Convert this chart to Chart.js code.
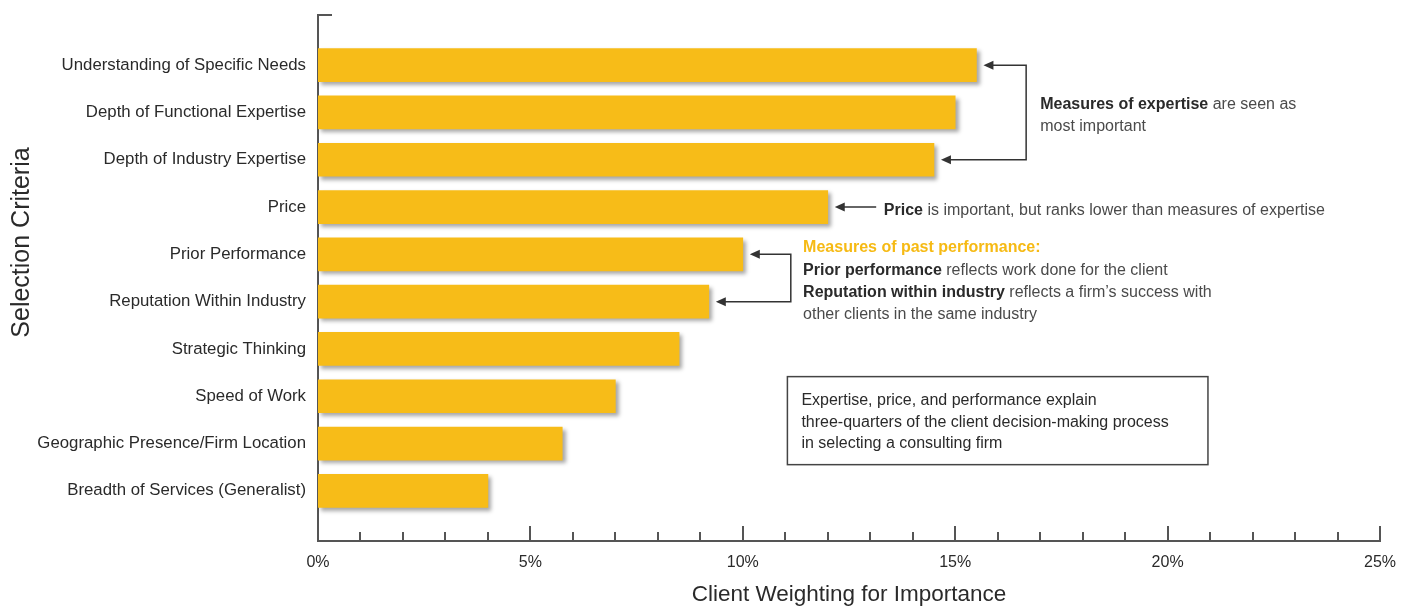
<html>
<head>
<meta charset="utf-8">
<script src="https://cdn.jsdelivr.net/npm/chart.js@4.4.1/dist/chart.umd.min.js"></script>
<style>
    html, body { margin: 0; padding: 0; background: #fff; }
</style>
</head>
<body>
<canvas id="myChart" width="1414" height="610"></canvas>
<script>
    // chart data
    const criteria = [
        'Understanding of Specific Needs',
        'Depth of Functional Expertise',
        'Depth of Industry Expertise',
        'Price',
        'Prior Performance',
        'Reputation Within Industry',
        'Strategic Thinking',
        'Speed of Work',
        'Geographic Presence/Firm Location',
        'Breadth of Services (Generalist)'
    ];
    const weights = [15.5, 15.0, 14.5, 12.0, 10.0, 9.2, 8.5, 7.0, 5.75, 4.0];
    const xTickValues = [0, 5, 10, 15, 20, 25];

    const FONT = "'Liberation Sans', Arial, sans-serif";
    const BAR = 'rgb(247, 188, 24)';
    const INK = '#2a2a2a';
    const SOFT = '#4a4a4a';
    const LINE = '#555';

    Chart.defaults.font.family = FONT;
    Chart.defaults.color = INK;

    // bars get a soft drop shadow
    const shadowPlugin = {
        id: 'shadow',
        beforeDatasetsDraw(chart) {
            const ctx = chart.ctx;
            ctx.save();
            ctx.shadowColor = 'rgba(0,0,0,0.35)';
            ctx.shadowOffsetX = 3;
            ctx.shadowOffsetY = 3;
            ctx.shadowBlur = 4;
        },
        afterDatasetsDraw(chart) {
            chart.ctx.restore();
        }
    };

    function richLine(ctx, x, y, parts) {
        for (const [txt, bold, color] of parts) {
            ctx.font = (bold ? 'bold ' : '') + '16px ' + FONT;
            ctx.fillStyle = color;
            ctx.fillText(txt, x, y);
            x += ctx.measureText(txt).width;
        }
    }

    function arrowHead(ctx, x, y) {
        ctx.beginPath();
        ctx.moveTo(x, y);
        ctx.lineTo(x + 10, y - 4.5);
        ctx.lineTo(x + 10, y + 4.5);
        ctx.closePath();
        ctx.fill();
    }

    const annotPlugin = {
        id: 'annot',
        afterDraw(chart) {
            const ctx = chart.ctx;
            const xs = chart.scales.x, ys = chart.scales.y;
            const area = chart.chartArea;
            const px = v => xs.getPixelForValue(v);
            const py = i => ys.getPixelForValue(i);
            const tip = i => px(weights[i]) + 7;

            ctx.save();
            // axis ticks pointing up, plus the little cap on the y axis
            ctx.strokeStyle = LINE;
            ctx.lineWidth = 2;
            ctx.beginPath();
            for (let v = 1; v <= 25; v++) {
                const x = Math.round(px(v));
                ctx.moveTo(x, area.bottom);
                ctx.lineTo(x, area.bottom - (v % 5 === 0 ? 15 : 9));
            }
            ctx.moveTo(area.left - 1, area.top);
            ctx.lineTo(area.left + 14, area.top);
            ctx.stroke();

            // y title
            ctx.save();
            ctx.translate(22, py(3.75));
            ctx.rotate(-Math.PI / 2);
            ctx.font = '25px ' + FONT;
            ctx.fillStyle = INK;
            ctx.textAlign = 'center';
            ctx.textBaseline = 'middle';
            ctx.fillText('Selection Criteria', 0, 0);
            ctx.restore();

            ctx.strokeStyle = '#333';
            ctx.fillStyle = '#333';
            ctx.lineWidth = 1.5;
            ctx.textBaseline = 'alphabetic';
            ctx.textAlign = 'left';

            // expertise bracket
            let vx = px(16.67);
            ctx.beginPath();
            ctx.moveTo(tip(0) + 8, py(0));
            ctx.lineTo(vx, py(0));
            ctx.lineTo(vx, py(2));
            ctx.lineTo(tip(2) + 8, py(2));
            ctx.stroke();
            arrowHead(ctx, tip(0), py(0));
            arrowHead(ctx, tip(2), py(2));
            let tx = px(17.0);
            richLine(ctx, tx, py(1) - 3, [['Measures of expertise', true, INK], [' are seen as', false, SOFT]]);
            richLine(ctx, tx, py(1) + 19, [['most important', false, SOFT]]);

            // price arrow
            ctx.strokeStyle = '#333';
            ctx.fillStyle = '#333';
            ctx.beginPath();
            ctx.moveTo(tip(3) + 8, py(3));
            ctx.lineTo(px(13.14), py(3));
            ctx.stroke();
            arrowHead(ctx, tip(3), py(3));
            richLine(ctx, px(13.32), py(3) + 8, [['Price', true, INK], [' is important, but ranks lower than measures of expertise', false, SOFT]]);

            // past performance bracket
            ctx.strokeStyle = '#333';
            ctx.fillStyle = '#333';
            vx = px(11.13);
            ctx.beginPath();
            ctx.moveTo(tip(4) + 8, py(4));
            ctx.lineTo(vx, py(4));
            ctx.lineTo(vx, py(5));
            ctx.lineTo(tip(5) + 8, py(5));
            ctx.stroke();
            arrowHead(ctx, tip(4), py(4));
            arrowHead(ctx, tip(5), py(5));
            tx = px(11.42);
            const b0 = py(4) - 2;
            richLine(ctx, tx, b0, [['Measures of past performance:', true, 'rgb(246, 186, 20)']]);
            richLine(ctx, tx, b0 + 22.3, [['Prior performance', true, INK], [' reflects work done for the client', false, SOFT]]);
            richLine(ctx, tx, b0 + 44.6, [['Reputation within industry', true, INK], [' reflects a firm\u2019s success with', false, SOFT]]);
            richLine(ctx, tx, b0 + 66.9, [['other clients in the same industry', false, SOFT]]);

            // summary box
            const bl = px(11.05), br = px(20.95);
            const bt = py(6.585), bb = py(8.446);
            ctx.strokeStyle = '#444';
            ctx.lineWidth = 1.5;
            ctx.strokeRect(bl, bt, br - bl, bb - bt);
            const boxLines = [
                'Expertise, price, and performance explain',
                'three-quarters of the client decision-making process',
                'in selecting a consulting firm'
            ];
            boxLines.forEach((s, i) => richLine(ctx, bl + 14, bt + 28.5 + 21.5 * i, [[s, false, INK]]));
            ctx.restore();
        }
    };

    const ctx = document.getElementById('myChart');

    new Chart(ctx, {
        type: 'bar',
        data: {
            datasets: [{
                data: weights.map((w, i) => ({ x: w, y: i })),
                backgroundColor: BAR,
                borderWidth: 0,
                barThickness: 33
            }]
        },
        options: {
            indexAxis: 'y',
            responsive: false,
            animation: false,
            devicePixelRatio: 1,
            layout: { padding: { top: 15, right: 34, left: 0, bottom: 0 } },
            plugins: {
                legend: { display: false },
                tooltip: { enabled: false }
            },
            scales: {
                x: {
                    type: 'linear',
                    min: 0,
                    max: 25,
                    afterFit: s => { s.height = 69; s.paddingLeft = 0; s.paddingRight = 0; },
                    afterBuildTicks: s => { s.ticks = xTickValues.map(v => ({ value: v })); },
                    grid: { display: false, drawTicks: false },
                    border: { display: true, color: LINE, width: 2 },
                    ticks: {
                        padding: 12,
                        font: { size: 16 },
                        color: INK,
                        callback: v => v + '%'
                    },
                    title: {
                        display: true,
                        text: 'Client Weighting for Importance',
                        font: { size: 22.5 },
                        color: INK,
                        padding: { top: 0, bottom: 2 }
                    }
                },
                y: {
                    type: 'linear',
                    reverse: true,
                    offset: false,
                    min: -1.06,
                    max: 10.06,
                    afterFit: s => { s.width = 318; s.paddingTop = 0; s.paddingBottom = 0; },
                    afterBuildTicks: s => { s.ticks = criteria.map((c, i) => ({ value: i })); },
                    grid: { display: false, drawTicks: false },
                    border: { display: true, color: LINE, width: 2 },
                    ticks: {
                        padding: 12,
                        font: { size: 16.8 },
                        color: INK,
                        autoSkip: false,
                        callback: v => criteria[v]
                    }
                }
            }
        },
        plugins: [shadowPlugin, annotPlugin]
    });
</script>
</body>
</html>
